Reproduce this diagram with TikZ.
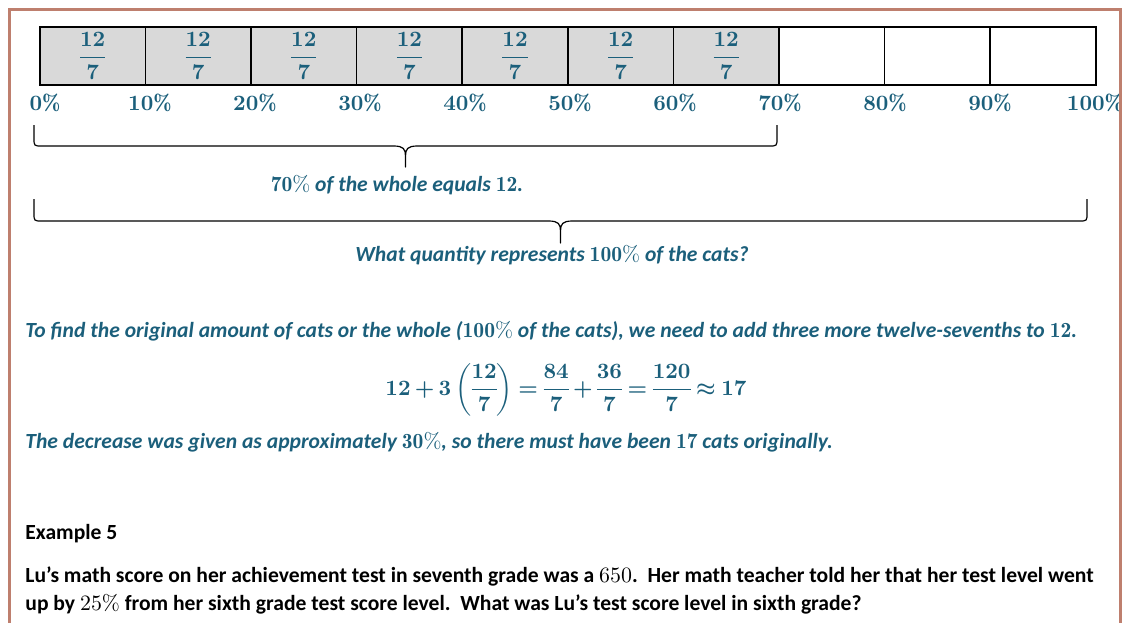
\documentclass[tikz,border=0pt]{standalone}
\usepackage{amsmath}
\usepackage{fontspec}
\newfontfamily\calibri{Carlito}
\definecolor{cteal}{HTML}{1B5F7B}
\definecolor{cframe}{HTML}{BE7F6E}
\definecolor{cshade}{HTML}{D9D9D9}
\newcommand{\textsz}{\fontsize{10.8}{13}\selectfont}
\newcommand{\mathsz}{\fontsize{11}{13}\selectfont}
% curly brace hanging under a span: left x, right x, top y, half depth (all in px)
\newcommand{\catbrace}[4]{%
  \pgfmathsetmacro{\bm}{(#1+#2)/2}%
  \pgfmathsetmacro{\bh}{#3+#4}%
  \pgfmathsetmacro{\bt}{#3+2*#4}%
  \draw[brace] (#1,#3) -- (#1,\bh-8) .. controls (#1,\bh) .. (#1+8,\bh)
    -- (\bm-12,\bh) .. controls (\bm-2,\bh) and (\bm,\bh+3) .. (\bm,\bh+10)
    -- (\bm,\bt) -- (\bm,\bh+10) .. controls (\bm,\bh+3) and (\bm+2,\bh) .. (\bm+12,\bh)
    -- (#2-8,\bh) .. controls (#2,\bh) .. (#2,\bh-8) -- (#2,#3);}

\begin{document}
\begin{tikzpicture}[
  x=0.5pt, y=-0.5pt,
  cell/.style={draw=black, line width=0.8pt, anchor=north west, inner sep=0pt,
               minimum width=52.8pt, minimum height=29pt},
  shaded/.style={cell, fill=cshade, text=cteal, font=\fontsize{10.8}{13}\selectfont\boldmath},
  pct/.style={anchor=base, inner sep=0pt, text=cteal, font=\mathsz\boldmath},
  brace/.style={line width=0.6pt, line join=round},
  note/.style={anchor=base west, inner sep=0pt, text=cteal, font=\textsz\calibri\bfseries\itshape},
  plain/.style={anchor=base west, inner sep=0pt, text=black, font=\textsz\calibri\bfseries},
]
\useasboundingbox (0,0) rectangle (1123,622);
% ---------- tape: ten tenths, seven of them shaded ----------
\foreach \i in {0,...,6}
  \node[shaded] (c\i) at ({39+105.6*\i},26) {$\dfrac{12}{7}$};
\foreach \i in {7,8,9}
  \node[cell] (c\i) at ({39+105.6*\i},26) {};
\foreach \p [count=\i from 0] in {0,10,...,100}
  \node[pct] (p\p) at ({45+105*\i},110) {$\p\%$};
% ---------- braces ----------
\catbrace{34}{777}{125}{21}
\node[note, anchor=base] (seventy) at (397,191.5) {$\mathbf{70}\%$ of the whole equals $\mathbf{12}$.};
\catbrace{34}{1087}{199}{22}
\node[note, anchor=base] (whole) at (552,261) {What quantity represents $\mathbf{100}\%$ of the cats?};
% ---------- working ----------
\node[note] (find) at (25,337.5) {To find the original amount of cats or the whole ($\mathbf{100}\%$ of the cats), we need to add three more twelve-sevenths to $\mathbf{12}$.};
\node[anchor=base, inner sep=0pt, text=cteal, font=\fontsize{10.8}{13}\selectfont\boldmath] (calc) at (566,395)
  {\thickmuskip=4mu\medmuskip=3mu\nulldelimiterspace=0pt
   $12+3\left(\dfrac{12}{7}\right)=\dfrac{84}{7}+\dfrac{36}{7}=\dfrac{120}{7}\approx 17$};
\node[note] (decr) at (25,448) {The decrease was given as approximately $\mathbf{30}\%$, so there must have been $\mathbf{17}$ cats originally.};
% ---------- next example ----------
\node[plain] (ex5) at (25,539) {Example 5};
\node[plain] (lu1) at (25,582) {Lu’s math score on her achievement test in seventh grade was a $650$.\ \ Her math teacher told her that her test level went};
\node[plain] (lu2) at (25,610) {up by $25\%$ from her sixth grade test score level.\ \ What was Lu’s test score level in sixth grade?};
% ---------- frame ----------
\draw[cframe, line width=1.5pt] (9.5,640) -- (9.5,9) -- (1120,9) -- (1120,640);
\end{tikzpicture}
\end{document}
